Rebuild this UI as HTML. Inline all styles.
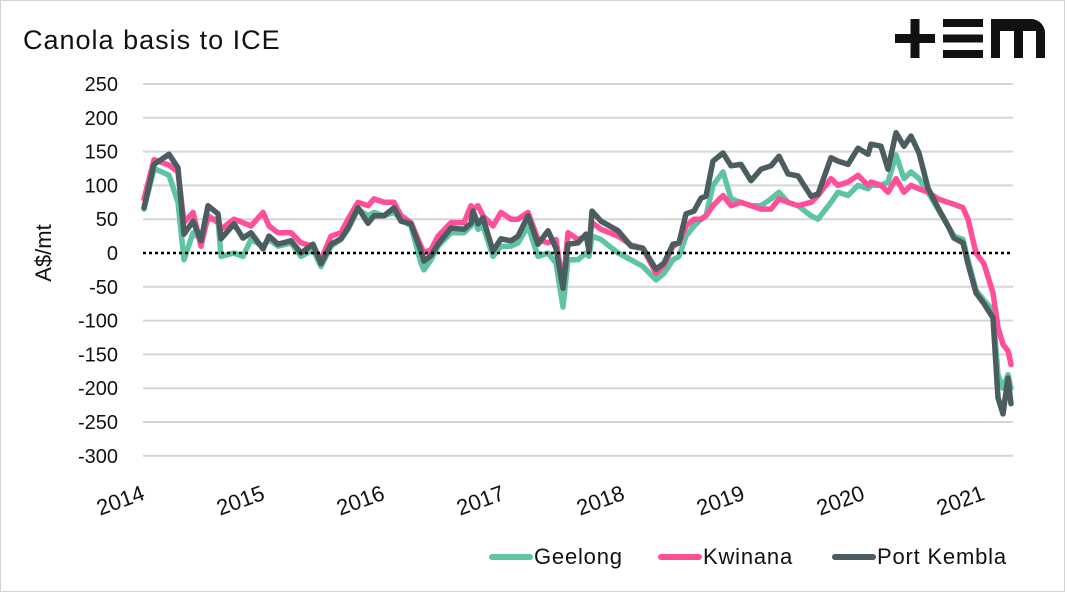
<!DOCTYPE html>
<html><head><meta charset="utf-8"><style>
html,body{margin:0;padding:0;background:#fff;}
#wrap{position:relative;width:1063px;height:590px;border:1px solid #d4d4d4;overflow:hidden;font-family:"Liberation Sans",sans-serif;}
</style></head><body>
<div id="wrap">
<svg id="chart" width="1063" height="590">
  <text x="22" y="48" font-size="27" letter-spacing="1" fill="#111">Canola basis to ICE</text>
  <g fill="#111">
    <rect x="894" y="33" width="40" height="9"/><rect x="909.5" y="18" width="9" height="39"/>
    <rect x="942" y="18" width="40" height="8"/><rect x="942" y="33.5" width="40" height="8"/><rect x="942" y="49" width="40" height="8"/>
    <path d="M990 57 V18 H1030 a14 14 0 0 1 14 14 V57 H1035 V30 H1022 V57 H1013 V30 H999 V57 Z"/>
  </g>
  <g id="grid"></g>
  <g id="series"></g>
  <g id="axes"></g>
  <g font-size="22" letter-spacing="0.8" fill="#111">
    <line x1="491" y1="556" x2="529" y2="556" stroke="#5fc4a4" stroke-width="6" stroke-linecap="round"/>
    <text x="533" y="563">Geelong</text>
    <line x1="660" y1="556" x2="698" y2="556" stroke="#ff4f9a" stroke-width="6" stroke-linecap="round"/>
    <text x="702" y="563">Kwinana</text>
    <line x1="834" y1="556" x2="872" y2="556" stroke="#4b5d5e" stroke-width="6" stroke-linecap="round"/>
    <text x="876" y="563">Port Kembla</text>
  </g>
</svg>
</div>
<script>
const xOffsets = [0,.083,.208,.283,.333,.408,.475,.533,.617,.642,.75,.825,.892,.992,1.042,1.117,1.225,1.308,1.408,1.475,1.558,1.642,1.7,1.783,1.867,1.917,2.0,2.083,2.142,2.225,2.308,2.333,2.392,2.45,2.558,2.667,2.725,2.742,2.783,2.825,2.908,2.975,3.058,3.117,3.2,3.283,3.367,3.433,3.492,3.533,3.617,3.683,3.708,3.733,3.808,3.95,4.058,4.158,4.267,4.333,4.408,4.458,4.517,4.583,4.642,4.683,4.742,4.825,4.892,4.975,5.058,5.142,5.225,5.292,5.367,5.45,5.558,5.617,5.725,5.783,5.867,5.95,6.033,6.058,6.142,6.2,6.267,6.333,6.392,6.458,6.533,6.617,6.7,6.75,6.825,6.867,6.933,7.0,7.075,7.117,7.158,7.2,7.225];
const dates = xOffsets.map(d => 2014 + d);
const geelong = [65,125,115,75,-10,30,20,50,50,-5, 0,-5,20,10,20,10,15,-5,5,-20, 10,20,35,65,55,60,55,60,50,40, -15,-25,-10,10,30,30,40,55,35,40, -5,10,10,15,40,-5,0,-15,-80,-10, -10,0,-5,25,20,0,-10,-20,-40,-30, -10,-5,25,40,50,55,100,120,80,75, 70,70,80,90,75,70,55,50,75,90, 85,100,95,100,100,105,145,110,120,110, 90,65,40,25,20,-10,-55,-70,-85,-180, -200,-180,-200];
const kwinana = [80,138,130,120,45,60,10,55,45,35, 50,45,40,60,40,30,30,15,10,-10, 25,30,50,75,70,80,75,75,55,45, 10,0,5,25,45,45,70,65,70,55, 40,60,50,50,60,20,15,20,-50,30, 20,25,15,45,35,25,12,7,-30,-18, 10,15,40,50,50,55,70,85,70,75, 70,65,65,80,75,70,75,85,110,100, 105,115,100,105,100,90,110,90,100,95, 90,80,75,72,67,50,0,-16,-59,-110, -135,-145,-165];
const portKembla = [67,131,146,126,28,47,18,70,58,21, 43,22,30,6,25,13,18,0,13,-16, 13,21,37,67,44,55,55,67,47,43, 3,-12,-4,13,37,35,44,62,43,52, 3,21,18,25,55,13,33,7,-52,13, 15,28,3,62,47,33,10,7,-24,-15, 13,15,58,62,81,84,136,148,129,131, 107,124,129,143,117,114,84,87,141,136, 131,155,146,161,158,124,178,158,173,148, 96,67,40,22,15,-16,-59,-75,-96,-214, -238,-185,-223];
const yTicks = [250,200,150,100,50,0,-50,-100,-150,-200,-250,-300];
const xTicks = [2014,2015,2016,2017,2018,2019,2020,2021];

const NS = "http://www.w3.org/2000/svg";
const X0 = 142, X1 = 1012;
const xs = yr => 143 + (yr - 2014) * 120;
const ys = v => 252 - v * 0.676;
function mk(tag, attrs, parent){const e=document.createElementNS(NS,tag);for(const k in attrs)e.setAttribute(k,attrs[k]);parent.appendChild(e);return e;}
const grid = document.getElementById('grid'), axes = document.getElementById('axes'), series = document.getElementById('series');
yTicks.forEach(v => {
  if (v !== 0) {
    const l = mk('line',{x1:X0,x2:X1,y1:ys(v),y2:ys(v),stroke:'#d6d6d6','stroke-width':2},grid);
    
    
  }
  const t = mk('text',{x:117,y:ys(v)+7,'text-anchor':'end','font-size':20,fill:'#111'},axes);
  t.textContent = v;
  
  
});
xTicks.forEach(yr => {
  const t = mk('text',{x:0,y:0,'text-anchor':'end','font-size':22,fill:'#111',transform:`translate(${xs(yr)+2},${498}) rotate(-20)`},axes);
  t.textContent = yr;
  
  
});
const yt = mk('text',{x:0,y:0,'text-anchor':'middle','font-size':22,fill:'#111',transform:'translate(50,252) rotate(-90)'},axes);
yt.textContent = 'A$/mt';


function draw(vals,color,name){
  const d = vals.map((v,i)=>(i?'L':'M')+xs(dates[i]).toFixed(1)+' '+ys(v).toFixed(1)).join(' ');
  const p = mk('path',{d:d,fill:'none',stroke:color,'stroke-width':5.5,'stroke-linejoin':'round','stroke-linecap':'round'},series);
  
  
}
draw(geelong,'#5fc4a4','geelong-line');
draw(kwinana,'#ff4f9a','kwinana-line');
draw(portKembla,'#4b5d5e','port-kembla-line');
const z = mk('line',{x1:X0,x2:X1,y1:ys(0),y2:ys(0),stroke:'#000','stroke-width':2.5,'stroke-dasharray':'3 3'},series);


</script>
</body></html>
